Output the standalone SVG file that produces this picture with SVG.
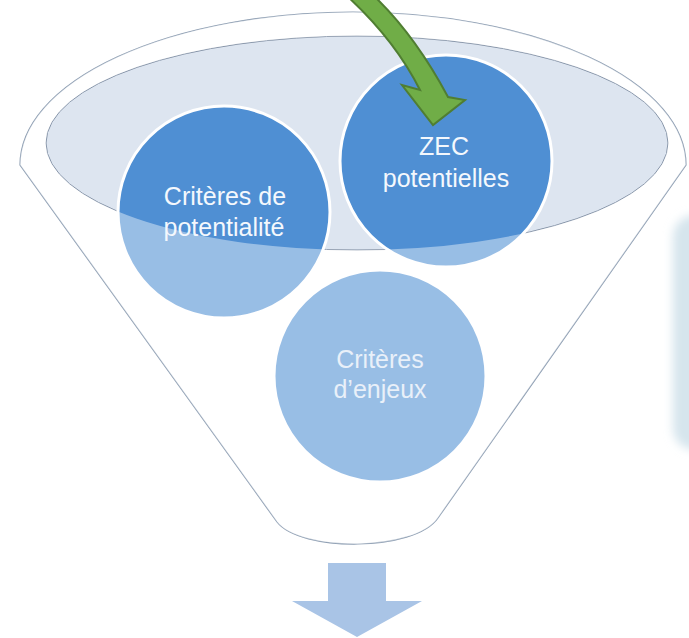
<svg xmlns="http://www.w3.org/2000/svg" width="689" height="638" viewBox="0 0 689 638">
<style>
.lbl{font-family:"Liberation Sans",Arial,sans-serif;font-size:25px;text-anchor:middle}
.top{fill:#f4f8fd}
.bot{fill:#e9f0f9}
.circ{fill:#4f8fd3;stroke:#ffffff;stroke-width:3}
</style>
<defs>
<filter id="blur" x="-50%" y="-20%" width="200%" height="140%"><feGaussianBlur stdDeviation="5"/></filter>
</defs>
<rect width="689" height="638" fill="#ffffff"/>
<g id="side-shape">
<rect x="673" y="215" width="50" height="235" rx="22" fill="#cfe0ea" fill-opacity="0.85" filter="url(#blur)"/>
</g>
<g id="funnel">
<path d="M20 165 A333 153 0 0 1 686 165 L438 518 C415 552 300 552 277 522 Z" fill="#ffffff" stroke="#8a9bb0" stroke-width="1.2"/>
<ellipse cx="357" cy="143" rx="311" ry="107" fill="#dde5f0" stroke="#7f8ea3" stroke-width="1"/>
</g>
<g id="node-potentialite">
<circle class="circ" cx="224" cy="212" r="106"/>
</g>
<g id="node-zec">
<circle class="circ" cx="446" cy="161" r="106"/>
</g>
<g id="node-enjeux">
<circle class="circ" cx="380" cy="376" r="106"/>
</g>
<path id="overlay" fill-rule="evenodd" fill="#ffffff" fill-opacity="0.42" d="M20 165 A333 153 0 0 1 686 165 L438 518 C415 552 300 552 277 522 Z M46 143 A311 107 0 1 0 668 143 A311 107 0 1 0 46 143 Z"/>
<g id="labels">
<text class="lbl top" x="225" y="205">Critères de</text>
<text class="lbl top" x="224" y="236">potentialité</text>
<text class="lbl top" x="444" y="155">ZEC</text>
<text class="lbl top" x="446" y="187">potentielles</text>
<text class="lbl bot" x="380" y="368">Critères</text>
<text class="lbl bot" x="380" y="398">d’enjeux</text>
</g>
<g id="connectors">
<path d="M346 -5 Q395 40 420 90 L402 85 L433 125 L465 100 L448 97 Q415 35 373 -5 Z" fill="#70ad47" stroke="#507e32" stroke-width="2" stroke-linejoin="miter"/>
<path d="M328 563 L386 563 L386 601 L422 601 L357 637 L292 601 L328 601 Z" fill="#a9c4e6"/>
</g>
</svg>
